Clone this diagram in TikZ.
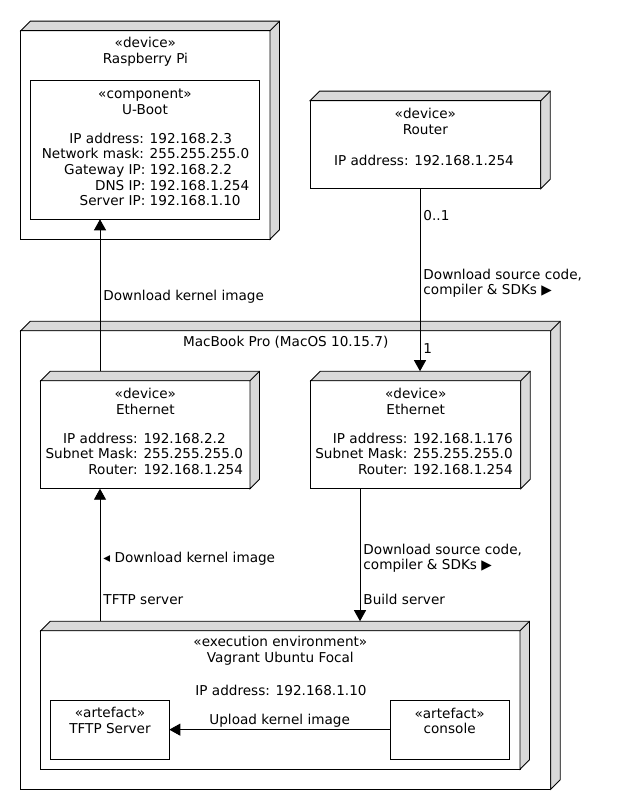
\documentclass[tikz,border=0pt]{standalone}
\usepackage{fontspec}
\setmainfont{DejaVu Sans}
\usetikzlibrary{arrows.meta}

\begin{document}
\begin{tikzpicture}[x=1pt,y=-1pt,
  every node/.style={font=\fontsize{13.6}{15.7}\selectfont},
  box/.style={draw,line width=0.9pt,inner sep=0pt,outer sep=0pt},
  flow/.style={line width=0.9pt,-{Triangle[length=11pt,width=12pt]}},
  lbl/.style={right,inner sep=3pt,align=left}]
\useasboundingbox (0,0) rectangle (620,810);

\node[box,minimum width=249.3pt,minimum height=208.6pt] (rpi) at (145.35,135) {};
\node[box,minimum width=228.6pt,minimum height=139.3pt] (uboot) at (145,149.65) {};
\node[box,minimum width=230.7pt,minimum height=88pt] (router) at (425.35,144.7) {};
\node[box,minimum width=530pt,minimum height=458.6pt] (mac) at (285.7,560) {};
\node[box,minimum width=209.3pt,minimum height=108pt] (ethL) at (145.35,434.7) {};
\node[box,minimum width=210pt,minimum height=108pt] (ethR) at (415.7,434.7) {};
\node[box,minimum width=479.3pt,minimum height=138.6pt] (vag) at (280.35,700) {};
\node[box,minimum width=118.6pt,minimum height=59.3pt] (tftp) at (110,729.65) {};
\node[box,minimum width=119.3pt,minimum height=59.3pt] (console) at (449.65,729.65) {};

% 3d sides of the nodes
\foreach \b in {rpi,router,mac,ethL,ethR,vag} {
  \filldraw[line width=0.9pt,fill=black!15] (\b.north west) -- ++(9.5,-9.5)
    -- ([shift={(9.5,-9.5)}]\b.north east) -- ([shift={(9.5,-9.5)}]\b.south east)
    -- (\b.south east) -- (\b.north east) -- cycle;
  \draw[line width=0.9pt] (\b.north east) -- ++(9.5,-9.5);
  \coordinate (\b-t) at ([shift={(0,-9.5)}]\b.north);
}

\node[align=center] (rpi-name) at (145.35,51.5) {«device»\\Raspberry Pi};
\node[align=center] (uboot-name) at (145,102) {«component»\\U-Boot};
\node (uboot-ip) at (145.5,171.3) {\begin{tabular}{@{}r@{ }l@{}}
  IP address: & 192.168.2.3\\
  Network mask: & 255.255.255.0\\
  Gateway IP: & 192.168.2.2\\
  DNS IP: & 192.168.1.254\\
  Server IP: & 192.168.1.10
\end{tabular}};

\node[align=center] (router-name) at (425.35,121.3) {«device»\\Router};
\node (router-ip) at (424,160) {IP address: 192.168.1.254};

\node (mac-name) at (285.7,342.5) {MacBook Pro (MacOS 10.15.7)};

\node[align=center] (ethL-name) at (145.35,401.3) {«device»\\Ethernet};
\node (ethL-ip) at (144.3,455.7) {\begin{tabular}{@{}r@{ }l@{}}
  IP address: & 192.168.2.2\\
  Subnet Mask: & 255.255.255.0\\
  Router: & 192.168.1.254
\end{tabular}};
\node[align=center] (ethR-name) at (415.7,401.3) {«device»\\Ethernet};
\node (ethR-ip) at (414,455.7) {\begin{tabular}{@{}r@{ }l@{}}
  IP address: & 192.168.1.176\\
  Subnet Mask: & 255.255.255.0\\
  Router: & 192.168.1.254
\end{tabular}};

\node[align=center] (vag-name) at (280.35,651) {«execution environment»\\Vagrant Ubuntu Focal};
\node (vag-ip) at (281,690) {IP address: 192.168.1.10};
\node[align=center] (tftp-name) at (110,720.5) {«artefact»\\TFTP Server};
\node[align=center] (console-name) at (449.65,721) {«artefact»\\console};

% connections
\draw[flow] (ethL-t -| 100,0) -- (uboot.south -| 100,0)
  node[lbl,pos=0.49] {Download kernel image};
\draw[flow] (router.south -| 420,0) -- (ethR-t -| 420,0)
  node[lbl,pos=0.145] {0..1}
  node[lbl,pos=0.518] {Download source code,\\compiler \& SDKs ▶}
  node[lbl,pos=0.875] {1};
\draw[flow] (vag-t -| 100,0) -- (ethL.south -| 100,0)
  node[lbl,pos=0.475] {◂ Download kernel image}
  node[lbl,pos=0.164] {TFTP server};
\draw[flow] (ethR.south -| 360,0) -- (vag-t -| 360,0)
  node[lbl,pos=0.525] {Download source code,\\compiler \& SDKs ▶}
  node[lbl,pos=0.836] {Build server};
\draw[flow] (console.west) -- (tftp.east)
  node[midway,above,inner sep=2pt] {Upload kernel image};
\end{tikzpicture}
\end{document}
